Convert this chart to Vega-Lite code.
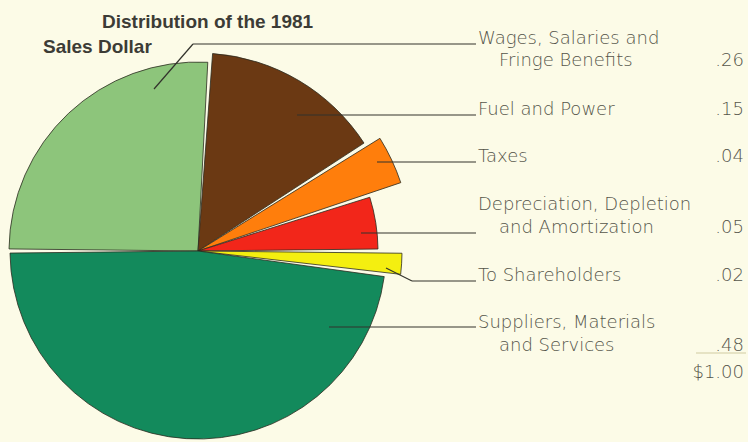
{
  "$schema": "https://vega.github.io/schema/vega-lite/v6.json",
  "width": 748,
  "height": 442,
  "padding": 0,
  "autosize": {"type": "fit", "contains": "padding"},
  "background": "#fcfbe7",
  "config": {"view": {"stroke": null}},
  "datasets": {
    "slices": [
      {"cat": "Wages, Salaries and Fringe Benefits", "value": 0.26, "ord": 6},
      {"cat": "Fuel and Power", "value": 0.15, "ord": 1},
      {"cat": "Taxes", "value": 0.04, "ord": 2},
      {"cat": "Depreciation, Depletion and Amortization", "value": 0.05, "ord": 3},
      {"cat": "To Shareholders", "value": 0.02, "ord": 4},
      {"cat": "Suppliers, Materials and Services", "value": 0.48, "ord": 5}
    ],
    "leaders": [
      {"x": 154, "y": 89, "x2": 193, "y2": 44},
      {"x": 193, "y": 44, "x2": 476, "y2": 44},
      {"x": 297, "y": 115, "x2": 476, "y2": 115},
      {"x": 377, "y": 162, "x2": 476, "y2": 162},
      {"x": 361, "y": 233, "x2": 476, "y2": 233},
      {"x": 386, "y": 268, "x2": 412, "y2": 281},
      {"x": 412, "y": 281, "x2": 476, "y2": 281},
      {"x": 329, "y": 327, "x2": 476, "y2": 327}
    ],
    "labels": [
      {"txt": "Wages, Salaries and", "x": 478, "y": 44},
      {"txt": "Fringe Benefits", "x": 499, "y": 66},
      {"txt": "Fuel and Power", "x": 478, "y": 115},
      {"txt": "Taxes", "x": 478, "y": 162},
      {"txt": "Depreciation, Depletion", "x": 478, "y": 210},
      {"txt": "and Amortization", "x": 499, "y": 233},
      {"txt": "To Shareholders", "x": 478, "y": 281},
      {"txt": "Suppliers, Materials", "x": 478, "y": 328},
      {"txt": "and Services", "x": 499, "y": 351}
    ],
    "amounts": [
      {"txt": ".26", "x": 744, "y": 66},
      {"txt": ".15", "x": 744, "y": 115},
      {"txt": ".04", "x": 744, "y": 162},
      {"txt": ".05", "x": 744, "y": 233},
      {"txt": ".02", "x": 744, "y": 281},
      {"txt": ".48", "x": 744, "y": 351},
      {"txt": "$1.00", "x": 744, "y": 378}
    ],
    "titles": [
      {"txt": "Distribution of the 1981", "x": 102, "y": 28},
      {"txt": "Sales Dollar", "x": 43, "y": 53}
    ]
  },
  "encoding": {
    "x": {"type": "quantitative", "scale": {"domain": [0, 748], "nice": false, "zero": false}, "axis": null},
    "y": {"type": "quantitative", "scale": {"domain": [0, 442], "nice": false, "zero": false, "reverse": true}, "axis": null}
  },
  "layer": [
    {
      "data": {"name": "slices"},
      "mark": {
        "type": "arc",
        "padAngle": 0.022,
        "stroke": "#2b2b20",
        "strokeWidth": 0.8,
        "x": 198,
        "y": 251,
        "outerRadius": {"expr": "datum.cat === 'Fuel and Power' ? 198 : datum.cat === 'Taxes' ? 214 : datum.cat === 'Depreciation, Depletion and Amortization' ? 180 : datum.cat === 'To Shareholders' ? 204 : datum.cat === 'Wages, Salaries and Fringe Benefits' ? 189 : 188"}
      },
      "encoding": {
        "x": null,
        "y": null,
        "theta": {"field": "value", "type": "quantitative", "stack": true, "scale": {"domain": [0, 1], "range": [0.0628, 6.346]}},
        "order": {"field": "ord", "type": "quantitative"},
        "color": {
          "field": "cat",
          "type": "nominal",
          "legend": null,
          "scale": {
            "domain": ["Wages, Salaries and Fringe Benefits", "Fuel and Power", "Taxes", "Depreciation, Depletion and Amortization", "To Shareholders", "Suppliers, Materials and Services"],
            "range": ["#8dc57b", "#6b3913", "#ff7e0c", "#f2261a", "#f4ef10", "#138a5c"]
          }
        }
      }
    },
    {
      "data": {"name": "leaders"},
      "mark": {"type": "rule", "color": "#33332c", "strokeWidth": 1.2},
      "encoding": {
        "x": {"field": "x"},
        "y": {"field": "y"},
        "x2": {"field": "x2"},
        "y2": {"field": "y2"}
      }
    },
    {
      "data": {"values": [{"a": 696, "b": 746, "c": 353}]},
      "mark": {"type": "rule", "color": "#cfcca2", "strokeWidth": 1.2},
      "encoding": {
        "x": {"field": "a"},
        "x2": {"field": "b"},
        "y": {"field": "c"}
      }
    },
    {
      "data": {"name": "labels"},
      "mark": {"type": "text", "align": "left", "baseline": "alphabetic", "font": "DejaVu Sans", "fontWeight": 300, "fontSize": 18, "color": "#55554a"},
      "encoding": {
        "x": {"field": "x"},
        "y": {"field": "y"},
        "text": {"field": "txt"}
      }
    },
    {
      "data": {"name": "amounts"},
      "mark": {"type": "text", "align": "right", "baseline": "alphabetic", "font": "DejaVu Sans", "fontWeight": 300, "fontSize": 18, "color": "#55554a"},
      "encoding": {
        "x": {"field": "x"},
        "y": {"field": "y"},
        "text": {"field": "txt"}
      }
    },
    {
      "data": {"name": "titles"},
      "mark": {"type": "text", "align": "left", "baseline": "alphabetic", "font": "Liberation Sans", "fontWeight": "bold", "fontSize": 19, "color": "#3c3c36"},
      "encoding": {
        "x": {"field": "x"},
        "y": {"field": "y"},
        "text": {"field": "txt"}
      }
    }
  ]
}
